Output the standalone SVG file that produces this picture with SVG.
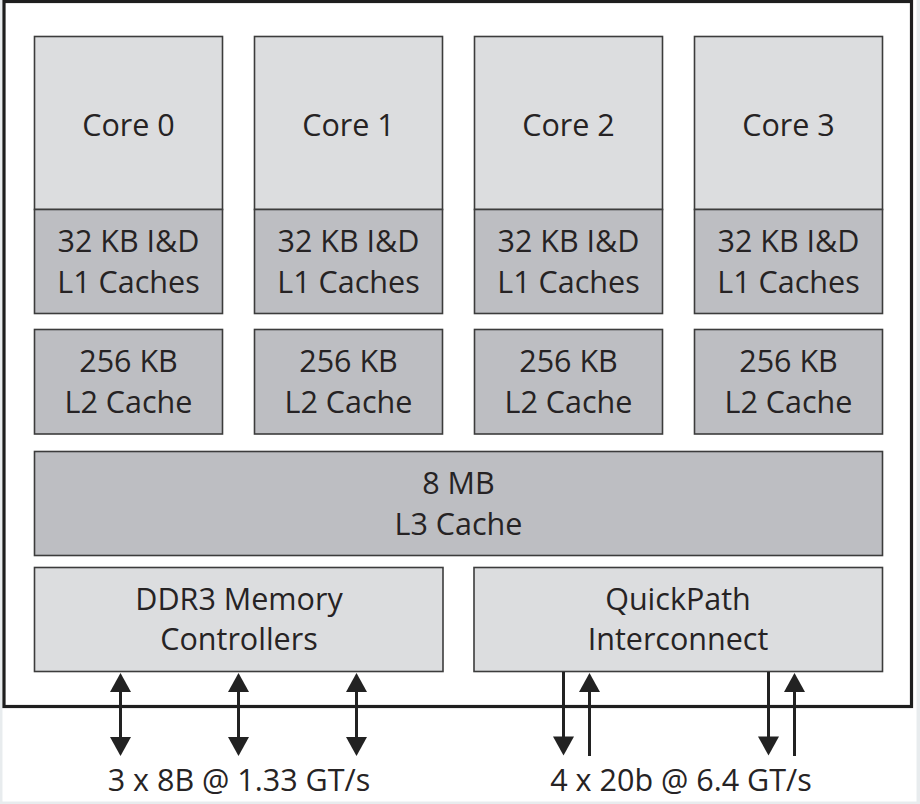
<svg xmlns="http://www.w3.org/2000/svg" width="920" height="804" viewBox="0 0 920 804">
<style>
.t{font-family:"Open Sans","Noto Sans","Liberation Sans",sans-serif;font-size:30.5px;fill:#262324;text-anchor:middle}
.core{fill:#dcdddf;stroke:#3c3c3c;stroke-width:1.6}
.dark{fill:#bdbec2;stroke:#3c3c3c;stroke-width:1.6}
.ln{stroke:#222;stroke-width:3;fill:none}
.ah{fill:#222}
</style>
<defs>
<polygon id="up" class="ah" points="0,0 -10.5,19 10.5,19"/>
<polygon id="dn" class="ah" points="0,0 -10.5,-19 10.5,-19"/>
</defs>
<rect x="0" y="0" width="920" height="804" fill="#e8ecee"/>
<rect x="2.5" y="0" width="914" height="801.5" fill="#ffffff"/>
<rect id="chip" x="4" y="1.5" width="907.5" height="705" fill="none" stroke="#1e1e1e" stroke-width="3.2"/>

<g id="core0">
<rect class="core" x="34.5" y="36.5" width="188" height="173"/>
<rect class="dark" x="34.5" y="209.5" width="188" height="104"/>
<text class="t" x="128.5" y="136">Core 0</text>
<text class="t" x="128.5" y="251.5">32 KB I&amp;D</text>
<text class="t" x="128.5" y="293">L1 Caches</text>
</g>
<g id="core1">
<rect class="core" x="254.5" y="36.5" width="188" height="173"/>
<rect class="dark" x="254.5" y="209.5" width="188" height="104"/>
<text class="t" x="348.5" y="136">Core 1</text>
<text class="t" x="348.5" y="251.5">32 KB I&amp;D</text>
<text class="t" x="348.5" y="293">L1 Caches</text>
</g>
<g id="core2">
<rect class="core" x="474.5" y="36.5" width="188" height="173"/>
<rect class="dark" x="474.5" y="209.5" width="188" height="104"/>
<text class="t" x="568.5" y="136">Core 2</text>
<text class="t" x="568.5" y="251.5">32 KB I&amp;D</text>
<text class="t" x="568.5" y="293">L1 Caches</text>
</g>
<g id="core3">
<rect class="core" x="694.5" y="36.5" width="188" height="173"/>
<rect class="dark" x="694.5" y="209.5" width="188" height="104"/>
<text class="t" x="788.5" y="136">Core 3</text>
<text class="t" x="788.5" y="251.5">32 KB I&amp;D</text>
<text class="t" x="788.5" y="293">L1 Caches</text>
</g>

<g id="l2_0">
<rect class="dark" x="34.5" y="329.5" width="188" height="104.5"/>
<text class="t" x="128.5" y="371.5">256 KB</text>
<text class="t" x="128.5" y="413">L2 Cache</text>
</g>
<g id="l2_1">
<rect class="dark" x="254.5" y="329.5" width="188" height="104.5"/>
<text class="t" x="348.5" y="371.5">256 KB</text>
<text class="t" x="348.5" y="413">L2 Cache</text>
</g>
<g id="l2_2">
<rect class="dark" x="474.5" y="329.5" width="188" height="104.5"/>
<text class="t" x="568.5" y="371.5">256 KB</text>
<text class="t" x="568.5" y="413">L2 Cache</text>
</g>
<g id="l2_3">
<rect class="dark" x="694.5" y="329.5" width="188" height="104.5"/>
<text class="t" x="788.5" y="371.5">256 KB</text>
<text class="t" x="788.5" y="413">L2 Cache</text>
</g>

<g id="l3">
<rect class="dark" x="34.5" y="451.5" width="848" height="104"/>
<text class="t" x="458.5" y="493.5">8 MB</text>
<text class="t" x="458.5" y="534.5">L3 Cache</text>
</g>

<g id="ddr3">
<rect class="core" x="34.5" y="567.5" width="408.5" height="104"/>
<text class="t" x="239" y="610">DDR3 Memory</text>
<text class="t" x="239" y="650">Controllers</text>
</g>
<g id="qpi">
<rect class="core" x="474" y="567.5" width="408.5" height="104"/>
<text class="t" x="678" y="610">QuickPath</text>
<text class="t" x="678" y="650">Interconnect</text>
</g>

<g id="connectors">
<line class="ln" x1="120.5" y1="690" x2="120.5" y2="738"/>
<use href="#up" x="120.5" y="673"/>
<use href="#dn" x="120.5" y="756"/>
<line class="ln" x1="238.5" y1="690" x2="238.5" y2="738"/>
<use href="#up" x="238.5" y="673"/>
<use href="#dn" x="238.5" y="756"/>
<line class="ln" x1="356.5" y1="690" x2="356.5" y2="738"/>
<use href="#up" x="356.5" y="673"/>
<use href="#dn" x="356.5" y="756"/>

<line class="ln" x1="563.5" y1="672" x2="563.5" y2="738"/>
<use href="#dn" x="563.5" y="755.5"/>
<line class="ln" x1="589.5" y1="690" x2="589.5" y2="756"/>
<use href="#up" x="589.5" y="673"/>
<line class="ln" x1="768.5" y1="672" x2="768.5" y2="738"/>
<use href="#dn" x="768.5" y="755.5"/>
<line class="ln" x1="794.5" y1="690" x2="794.5" y2="756"/>
<use href="#up" x="794.5" y="673"/>
</g>

<text class="t" x="239" y="790.5">3 x 8B @ 1.33 GT/s</text>
<text class="t" x="681" y="790.5">4 x 20b @ 6.4 GT/s</text>
</svg>
